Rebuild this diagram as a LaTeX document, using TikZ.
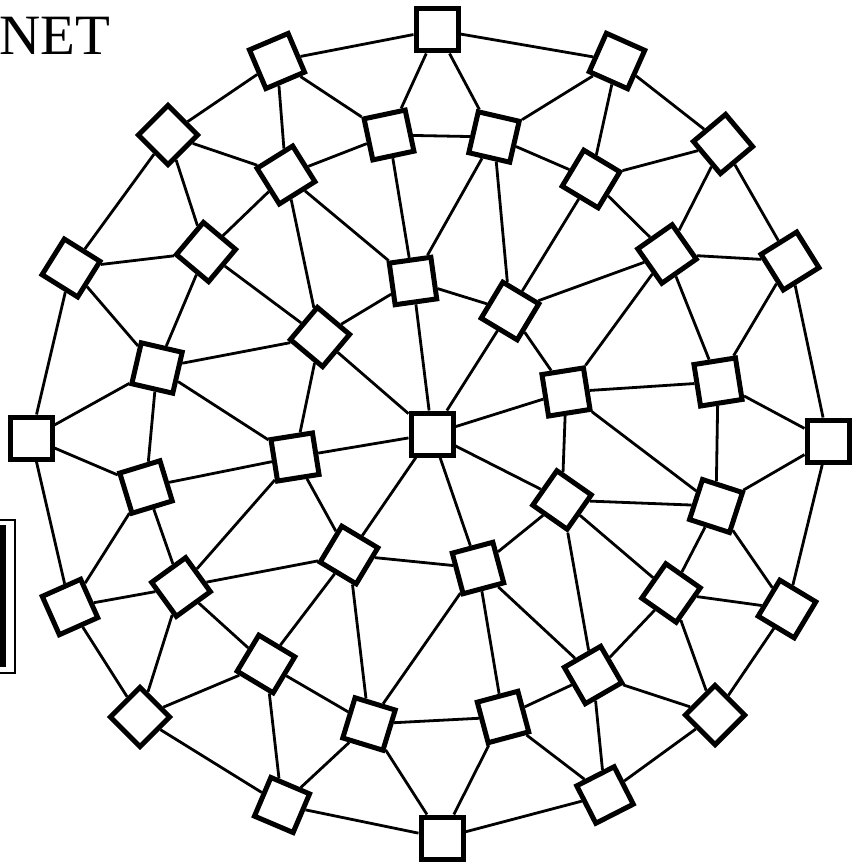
\documentclass[tikz,border=0pt]{standalone}
\usepackage{fontspec}
\setmainfont{Liberation Serif}
\usetikzlibrary{backgrounds}
\begin{document}
\begin{tikzpicture}[x=1pt,y=-1pt,
  box/.style={draw=black,fill=white,line width=5pt,minimum size=42pt,inner sep=0pt,shape=rectangle},
  link/.style={line width=2.8pt},
  frame/.style={line width=1.6pt},
  heavy/.style={line width=6.5pt}]
\useasboundingbox (0,0) rectangle (859,864);
\clip (0,0) rectangle (859,864);
% title
\node[anchor=base west,inner sep=0pt] (title) at (-1,55) {\fontsize{57}{60}\selectfont NET};
% partial frame at left edge
\draw[frame] (-40,520) rectangle (15,673);
\draw[heavy] (-40,528) rectangle (3,664);
% outer ring
\node[box,rotate=0]   (O1)  at (437,30)  {};
\node[box,rotate=-24] (O2)  at (617,61)  {};
\node[box,rotate=40]  (O3)  at (723,144) {};
\node[box,rotate=32]  (O4)  at (790,261) {};
\node[box,rotate=0]   (O5)  at (828,441) {};
\node[box,rotate=-31] (O6)  at (787,609) {};
\node[box,rotate=45]  (O7)  at (715,715) {};
\node[box,rotate=27]  (O8)  at (605,795) {};
\node[box,rotate=0]   (O9)  at (442,838) {};
\node[box,rotate=-23] (O10) at (282,805) {};
\node[box,rotate=45]  (O11) at (140,717) {};
\node[box,rotate=24]  (O12) at (70,607)  {};
\node[box,rotate=0]   (O13) at (31,438)  {};
\node[box,rotate=-32] (O14) at (71,268)  {};
\node[box,rotate=45]  (O15) at (168,135) {};
\node[box,rotate=23]  (O16) at (277,61)  {};
% middle ring
\node[box,rotate=12]  (M1)  at (389,135) {};
\node[box,rotate=-13] (M2)  at (494,137) {};
\node[box,rotate=-31] (M3)  at (591,179) {};
\node[box,rotate=35]  (M4)  at (667,254) {};
\node[box,rotate=9]   (M5)  at (718,382) {};
\node[box,rotate=-18] (M6)  at (716,506) {};
\node[box,rotate=-35] (M7)  at (671,593) {};
\node[box,rotate=30]  (M8)  at (593,675) {};
\node[box,rotate=15]  (M9)  at (503,717) {};
\node[box,rotate=-17] (M10) at (369,724) {};
\node[box,rotate=-31] (M11) at (266,664) {};
\node[box,rotate=36]  (M12) at (181,587) {};
\node[box,rotate=17]  (M13) at (146,487) {};
\node[box,rotate=-13] (M14) at (157,368) {};
\node[box,rotate=-40] (M15) at (206,252) {};
\node[box,rotate=32]  (M16) at (286,175) {};
% inner ring
\node[box,rotate=8]   (I1) at (413,281) {};
\node[box,rotate=-31] (I2) at (510,311) {};
\node[box,rotate=9]   (I3) at (566,392) {};
\node[box,rotate=-35] (I4) at (562,500) {};
\node[box,rotate=15]  (I5) at (478,568) {};
\node[box,rotate=-31] (I6) at (349,555) {};
\node[box,rotate=9]   (I7) at (295,457) {};
\node[box,rotate=-40] (I8) at (320,337) {};
% centre
\node[box] (C) at (432,434) {};
\begin{scope}[on background layer]
% outer ring links
\draw[link] (O1)--(O2) (O2)--(O3) (O3)--(O4) (O4)--(O5) (O5)--(O6) (O6)--(O7) (O7)--(O8) (O8)--(O9)
            (O9)--(O10) (O10)--(O11) (O11)--(O12) (O12)--(O13) (O13)--(O14) (O14)--(O15) (O15)--(O16) (O16)--(O1);
% middle ring links
\draw[link] (M1)--(M2) (M2)--(M3) (M3)--(M4) (M4)--(M5) (M5)--(M6) (M6)--(M7) (M7)--(M8) (M8)--(M9)
            (M9)--(M10) (M10)--(M11) (M11)--(M12) (M12)--(M13) (M13)--(M14) (M14)--(M15) (M15)--(M16) (M16)--(M1);
% outer to middle
\draw[link] (O1)--(M1) (O1)--(M2) (O2)--(M2) (O2)--(M3) (O3)--(M3) (O3)--(M4) (O4)--(M4) (O4)--(M5)
            (O5)--(M5) (O5)--(M6) (O6)--(M6) (O6)--(M7) (O7)--(M7) (O7)--(M8) (O8)--(M8) (O8)--(M9)
            (O9)--(M9) (O9)--(M10) (O10)--(M10) (O10)--(M11) (O11)--(M11) (O11)--(M12) (O12)--(M12) (O12)--(M13)
            (O13)--(M13) (O13)--(M14) (O14)--(M14) (O14)--(M15) (O15)--(M15) (O15)--(M16) (O16)--(M16) (O16)--(M1);
% middle to inner
\draw[link] (I1)--(M16) (I1)--(M1) (I1)--(M2)
            (I2)--(M2) (I2)--(M3) (I2)--(M4)
            (I3)--(M4) (I3)--(M5) (I3)--(M6)
            (I4)--(M6) (I4)--(M7) (I4)--(M8)
            (I5)--(M8) (I5)--(M9) (I5)--(M10)
            (I6)--(M10) (I6)--(M11) (I6)--(M12)
            (I7)--(M12) (I7)--(M13) (I7)--(M14)
            (I8)--(M14) (I8)--(M15) (I8)--(M16);
% inner ring
\draw[link] (I1)--(I2) (I2)--(I3) (I3)--(I4) (I4)--(I5) (I5)--(I6) (I6)--(I7) (I7)--(I8) (I8)--(I1);
% spokes
\draw[link] (C)--(I1) (C)--(I2) (C)--(I3) (C)--(I4) (C)--(I5) (C)--(I6) (C)--(I7) (C)--(I8);
\end{scope}
\end{tikzpicture}
\end{document}
